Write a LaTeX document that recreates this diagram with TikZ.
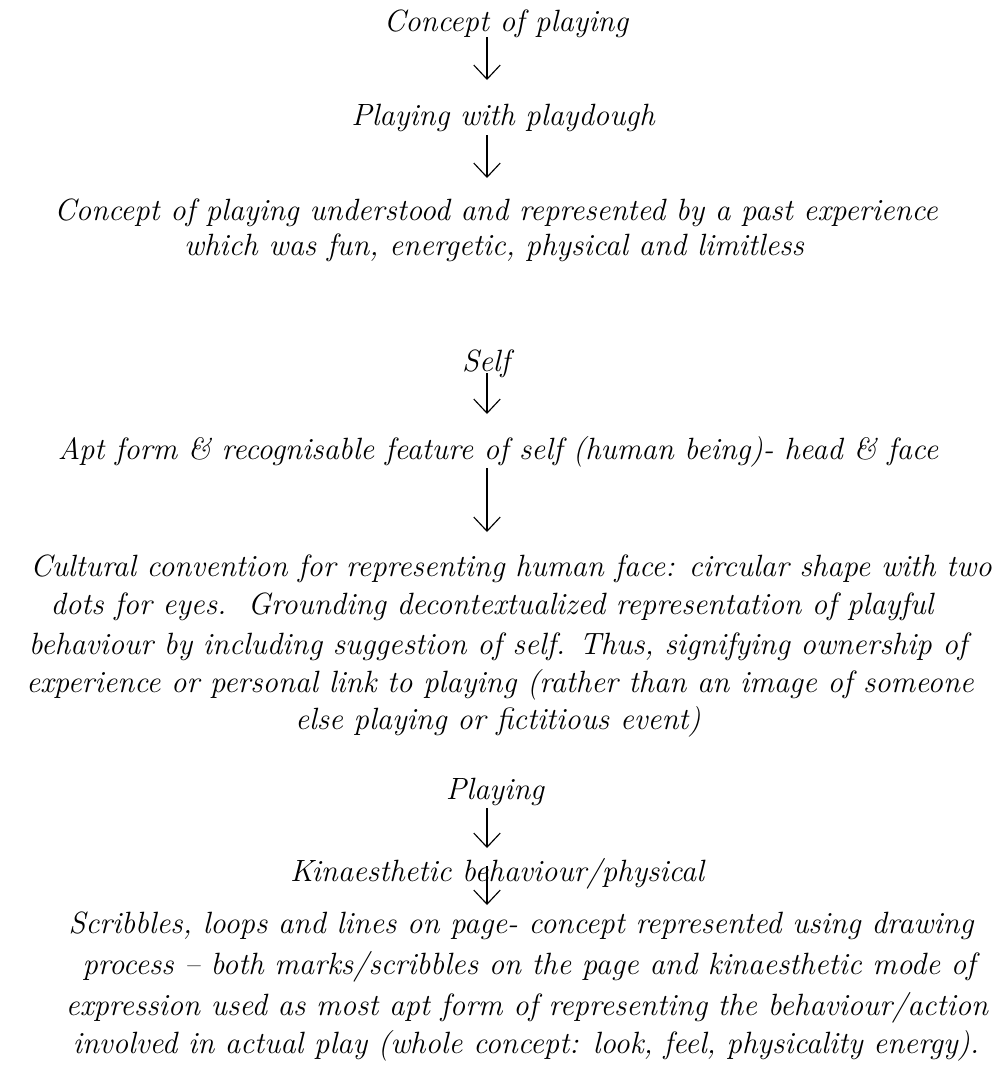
\documentclass[tikz,border=0pt]{standalone}
\usetikzlibrary{arrows.meta,calc}
\begin{document}
\begin{tikzpicture}[x=0.02cm,y=-0.02cm,
  txt/.style={font=\fontsize{17.5}{21}\selectfont\itshape, inner sep=0pt, anchor=base},
  flow/.style={-{Straight Barb[length=8pt,width=15pt]}, line width=0.65pt}]
\useasboundingbox (0,0) rectangle (1001,1082);
\coordinate (col) at (487,0);
% block 1
\node[txt] (c1) at (506,31) {Concept of playing};
\node[txt] (c2) at (503,125) {Playing with playdough};
\node[txt] (c3a) at (496,220) {Concept of playing understood and represented by a past experience};
\node[txt] (c3b) at (494,255) {which was fun, energetic, physical and limitless};
% block 2
\node[txt] (s1) at (486,371) {Self};
\node[txt] (s2) at (498,459) {Apt form \& recognisable feature of self (human being)- head \& face};
\node[txt] (s3a) at (511,576) {Cultural convention for representing human face: circular shape with two};
\node[txt] (s3b) at (492,614) {dots for eyes.\ \ Grounding decontextualized representation of playful};
\node[txt] (s3c) at (498,654) {behaviour by including suggestion of self. Thus, signifying ownership of};
\node[txt] (s3d) at (500,692) {experience or personal link to playing (rather than an image of someone};
\node[txt] (s3e) at (498,729) {else playing or fictitious event)};
% block 3
\node[txt] (p1) at (495,799) {Playing};
\node[txt] (p2) at (497,881) {Kinaesthetic behaviour/physical};
\node[txt] (p3a) at (521,933) {Scribbles, loops and lines on page- concept represented using drawing};
\node[txt] (p3b) at (529,974) {process -- both marks/scribbles on the page and kinaesthetic mode of};
\node[txt] (p3c) at (527,1015) {expression used as most apt form of representing the behaviour/action};
\node[txt] (p3d) at (526,1053) {involved in actual play (whole concept: look, feel, physicality energy).};
% arrows
\draw[flow] ($(c1.base-|col)+(0,6)$) -- ($(c2.base-|col)+(0,-45)$);
\draw[flow] ($(c2.base-|col)+(0,10)$) -- ($(c3a.base-|col)+(0,-42)$);
\draw[flow] ($(s1.base-|col)+(0,2)$) -- ($(s2.base-|col)+(0,-45)$);
\draw[flow] ($(s2.base-|col)+(0,9)$) -- ($(s3a.base-|col)+(0,-44)$);
\draw[flow] ($(p1.base-|col)+(0,9)$) -- ($(p2.base-|col)+(0,-33)$);
\draw[flow] ($(p2.base-|col)+(0,-15)$) -- ($(p3a.base-|col)+(0,-28)$);
\end{tikzpicture}
\end{document}
